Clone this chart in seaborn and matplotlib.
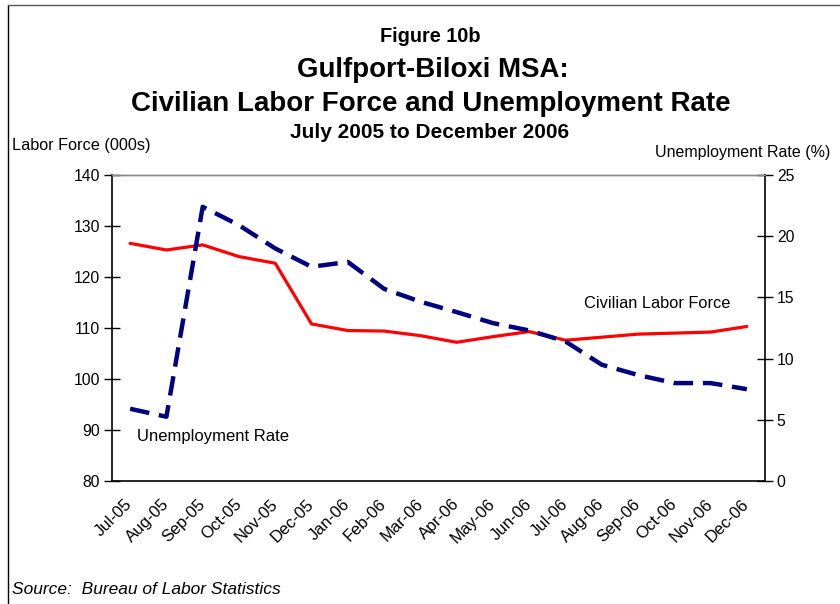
import numpy as np
import pandas as pd
import matplotlib
matplotlib.use("Agg")
import matplotlib.pyplot as plt
import matplotlib.transforms as mtransforms
import seaborn as sns
from matplotlib.lines import Line2D

months = ["Jul-05", "Aug-05", "Sep-05", "Oct-05", "Nov-05", "Dec-05",
          "Jan-06", "Feb-06", "Mar-06", "Apr-06", "May-06", "Jun-06",
          "Jul-06", "Aug-06", "Sep-06", "Oct-06", "Nov-06", "Dec-06"]
labor_force = [126.6, 125.3, 126.3, 124.0, 122.7, 110.8,
               109.5, 109.4, 108.5, 107.2, 108.3, 109.3,
               107.6, 108.2, 108.8, 109.0, 109.2, 110.3]
unemp_rate = [5.9, 5.25, 22.4, 20.9, 19.0, 17.5,
              17.9, 15.7, 14.65, 13.8, 12.9, 12.3,
              11.4, 9.5, 8.66, 8.0, 8.0, 7.5]
left_ticks = [80, 90, 100, 110, 120, 130, 140]
right_ticks = [0, 5, 10, 15, 20, 25]

df = pd.DataFrame({"idx": np.arange(len(months)), "month": months,
                   "labor": labor_force, "rate": unemp_rate})

sns.set_style("white")
plt.rcParams["font.family"] = ["Liberation Sans", "DejaVu Sans"]
plt.rcParams["text.color"] = "black"
plt.rcParams["xtick.color"] = "black"
plt.rcParams["ytick.color"] = "black"
plt.rcParams["axes.labelcolor"] = "black"

fig = plt.figure(figsize=(8.4, 6.04), dpi=100)
ax = fig.add_axes([112/840, 1-481/604, (765-112)/840, (481-175)/604])
ax2 = ax.twinx()

sns.lineplot(data=df, x="idx", y="labor", ax=ax, color="#FF0000",
             linewidth=2.3, zorder=3)
sns.lineplot(data=df, x="idx", y="rate", ax=ax2, color="#000080",
             linewidth=3.2, zorder=4)
for l in ax2.get_lines():
    l.set_dashes([4.4, 2.2])
    l.set_dash_capstyle("butt")

ax.set_xlim(-0.5, len(months)-0.5)
ax.set_ylim(80, 140)
ax2.set_ylim(0, 25)
ax.set_yticks(left_ticks)
ax.set_yticklabels([str(t) for t in left_ticks])
ax2.set_yticks(right_ticks)
ax2.set_yticklabels([str(t) for t in right_ticks])

ax.set_xticks(np.arange(len(months)))
ax.set_xticklabels(months, rotation=45, ha="right", va="center",
                   rotation_mode="anchor")
offset = mtransforms.ScaledTranslation(-5/100, 0, fig.dpi_scale_trans)
for lab in ax.get_xticklabels():
    lab.set_transform(lab.get_transform() + offset)
ax.set_xticks(np.arange(len(months)+1) - 0.5, minor=True)
ax.tick_params(axis="x", which="major", length=0, pad=15, labelsize=12)
ax.tick_params(axis="x", which="minor", length=11, width=1,
               direction="inout", color="black")
ax.tick_params(axis="y", which="major", length=11, width=1,
               direction="inout", color="black", labelsize=11.3, pad=3)
ax2.tick_params(axis="y", which="major", length=11, width=1,
                direction="inout", color="black", labelsize=11.3, pad=3,
                right=True)
ax.set_xlabel("")
ax.set_ylabel("")
ax2.set_ylabel("")

for a in (ax, ax2):
    for s in ("left", "bottom", "right"):
        a.spines[s].set_color("black")
        a.spines[s].set_linewidth(1.2)
    a.spines["top"].set_color("#888888")
    a.spines["top"].set_linewidth(1.0)
    a.grid(False)
ax.spines["right"].set_visible(False)
ax2.spines["left"].set_visible(False)
ax2.spines["bottom"].set_visible(False)

ax2.text(0.2, 3.6, "Unemployment Rate", fontsize=12, ha="left",
         va="center", color="black")
ax.text(12.5, 114.9, "Civilian Labor Force", fontsize=11.8, ha="left",
        va="center", color="black")

fig.text(430/840, 1-37/604, "Figure 10b", fontsize=14.3, fontweight="bold",
         ha="center", va="center")
fig.text(433/840, 1-70/604, "Gulfport-Biloxi MSA:", fontsize=19.9,
         fontweight="bold", ha="center", va="center")
fig.text(431/840, 1-104/604, "Civilian Labor Force and Unemployment Rate",
         fontsize=20, fontweight="bold", ha="center", va="center")
fig.text(430/840, 1-133/604, "July 2005 to December 2006", fontsize=15,
         fontweight="bold", ha="center", va="center")
fig.text(12/840, 1-145/604, "Labor Force (000s)", fontsize=11.7,
         ha="left", va="center")
fig.text(830/840, 1-152/604, "Unemployment Rate (%)", fontsize=11.5,
         ha="right", va="center")
fig.text(12/840, 1-590/604, "Source:  Bureau of Labor Statistics",
         fontsize=12.5, style="italic", ha="left", va="center")

fig.add_artist(Line2D([8/840, 8/840], [0, 1-5/604], color="black",
                      linewidth=1.0, transform=fig.transFigure))
fig.add_artist(Line2D([8/840, 1.0], [1-5/604, 1-5/604], color="#555555",
                      linewidth=1.0, transform=fig.transFigure))

fig.savefig("out.png", dpi=100, facecolor="white")
